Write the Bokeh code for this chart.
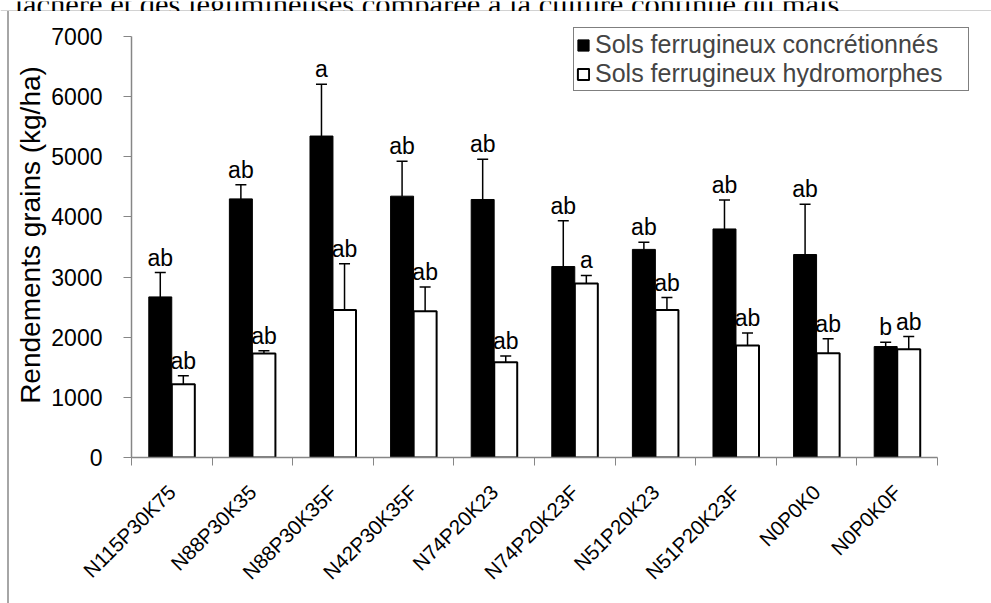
import math
from bokeh.plotting import figure
from bokeh.layouts import column, row
from bokeh.models import (Range1d, FixedTicker, ColumnDataSource, Whisker, TeeHead,
                          Legend, LegendItem, Label, Span, Div)
from bokeh.core.properties import value
from bokeh.embed import file_html
from bokeh.resources import INLINE

# ---------------- data ----------------
categories = ["N115P30K75", "N88P30K35", "N88P30K35F", "N42P30K35F", "N74P20K23",
              "N74P20K23F", "N51P20K23", "N51P20K23F", "N0P0K0", "N0P0K0F"]
concretionnes = [2670, 4300, 5345, 4345, 4290, 3175, 3460, 3800, 3375, 1845]
concretionnes_err = [405, 235, 860, 580, 670, 760, 120, 480, 835, 70]
hydromorphes = [1218, 1728, 2453, 2431, 1584, 2892, 2453, 1861, 1733, 1800]
hydromorphes_err = [140, 45, 770, 405, 105, 135, 207, 208, 240, 210]
letters_conc = ["ab", "ab", "a", "ab", "ab", "ab", "ab", "ab", "ab", "b"]
letters_hydro = ["ab", "ab", "ab", "ab", "ab", "a", "ab", "ab", "ab", "ab"]
y_ticks = [0, 1000, 2000, 3000, 4000, 5000, 6000, 7000]
series_names = ["Sols ferrugineux concrétionnés", "Sols ferrugineux hydromorphes"]
caption = "jachère et des légumineuses comparée à la culture continue du maïs."

# ---------------- styling ----------------
FONT = "Liberation Sans"
AXIS_GRAY = "#868686"
FRAME_GRAY = "#a6a6a6"
BAR_W = 0.285
OFF = 0.143


def blank(width, height):
    # pixel-like ranges so decorative positions read as pixels
    f = figure(width=width, height=height, output_backend="svg", toolbar_location=None,
               x_axis_type=None, y_axis_type=None, x_range=Range1d(0, width),
               y_range=Range1d(0, height), min_border=0)
    f.grid.visible = False
    f.outline_line_color = None
    f.background_fill_color = "white"
    f.border_fill_color = "white"
    return f


# --- strip at the top: truncated caption of the page + top edge of the frame
cap_fig = blank(991, 11)
cap_fig.add_layout(Span(location=1, dimension="width", line_color=FRAME_GRAY,
                        line_width=2))
cap_fig.add_layout(Label(x=14, y=8, text=caption, text_font="Liberation Serif",
                         text_font_size="30.5px", text_baseline="alphabetic",
                         text_color="black"))

# --- strip at the left: left edge of the frame (plain element, full height)
side = Div(text="", width=10, height=592, margin=0,
           styles={"background": "linear-gradient(to right, #ffffff 7.5px, "
                                 + FRAME_GRAY + " 7.5px, " + FRAME_GRAY
                                 + " 9.5px, #ffffff 9.5px)"})

# --- main chart
n = len(categories)
centers = [i + 0.5 for i in range(n)]
x_conc = [c - OFF for c in centers]
x_hydro = [c + OFF for c in centers]

src_c = ColumnDataSource(dict(
    x=x_conc, top=concretionnes,
    upper=[v + e for v, e in zip(concretionnes, concretionnes_err)],
    lower=concretionnes, txt=letters_conc))
src_h = ColumnDataSource(dict(
    x=x_hydro, top=hydromorphes,
    upper=[v + e for v, e in zip(hydromorphes, hydromorphes_err)],
    lower=[v - e for v, e in zip(hydromorphes, hydromorphes_err)],
    txt=letters_hydro))

# plotting frame extends beyond the axes so the overhanging legend is not
# clipped; the axis lines themselves are bounded to the data area.
p = figure(width=981, height=592, output_backend="svg", toolbar_location=None,
           x_range=Range1d(0, 10.645), y_range=Range1d(0, 7399),
           min_border_left=121, min_border_right=2, min_border_top=1,
           min_border_bottom=146)
p.xgrid.visible = False
p.ygrid.visible = False
p.outline_line_color = None
p.background_fill_color = "white"
p.border_fill_color = "white"

r1 = p.vbar(x="x", top="top", width=BAR_W, bottom=0, source=src_c,
            fill_color="black", line_color="black", line_width=1)
r2 = p.vbar(x="x", top="top", width=BAR_W, bottom=0, source=src_h,
            fill_color="white", line_color="black", line_width=2)

p.add_layout(Whisker(source=src_c, base="x", upper="upper", lower="lower",
                     line_color="black", line_width=1.5,
                     upper_head=TeeHead(size=11, line_color="black", line_width=1.5),
                     lower_head=None))
p.add_layout(Whisker(source=src_h, base="x", upper="upper", lower="lower",
                     line_color="black", line_width=1.5,
                     upper_head=TeeHead(size=11, line_color="black", line_width=1.5),
                     lower_head=TeeHead(size=11, line_color="black", line_width=1.5)))

for src in (src_c, src_h):
    p.text(x="x", y="upper", text="txt", source=src, text_align="center",
           text_baseline="bottom", y_offset=-2, text_font=value(FONT),
           text_font_size="23px", text_color="black")

# axes
p.xaxis.bounds = (0, n)
p.xaxis.ticker = FixedTicker(ticks=centers, minor_ticks=list(range(n + 1)))
p.xaxis.major_label_overrides = {c: lab for c, lab in zip(centers, categories)}
p.xaxis.major_tick_line_color = None
p.xaxis.minor_tick_line_color = AXIS_GRAY
p.xaxis.minor_tick_out = 8
p.xaxis.minor_tick_in = 0
p.xaxis.major_label_orientation = math.pi / 4
p.xaxis.major_label_standoff = 23
p.xaxis.major_label_text_font = FONT
p.xaxis.major_label_text_font_size = "20.5px"
p.xaxis.major_label_text_color = "black"
p.xaxis.axis_line_color = AXIS_GRAY
p.xaxis.axis_line_width = 1.5

p.yaxis.bounds = (0, 7000)
p.yaxis.ticker = FixedTicker(ticks=y_ticks)
p.yaxis.major_tick_out = 8
p.yaxis.major_tick_in = 0
p.yaxis.major_tick_line_color = AXIS_GRAY
p.yaxis.minor_tick_line_color = None
p.yaxis.axis_line_color = AXIS_GRAY
p.yaxis.axis_line_width = 1.5
p.yaxis.major_label_text_font = FONT
p.yaxis.major_label_text_font_size = "23px"
p.yaxis.major_label_text_color = "black"
p.yaxis.major_label_standoff = 21
p.yaxis.axis_label = "Rendements grains (kg/ha)"
p.yaxis.axis_label_text_font = FONT
p.yaxis.axis_label_text_font_size = "28px"
p.yaxis.axis_label_text_font_style = "normal"
p.yaxis.axis_label_text_color = "black"
p.yaxis.axis_label_standoff = 2

legend = Legend(items=[LegendItem(label=series_names[0], renderers=[r1]),
                       LegendItem(label=series_names[1], renderers=[r2])],
                location=(442, 366))
legend.label_text_font = FONT
legend.label_text_font_size = "25px"
legend.glyph_width = 14
legend.glyph_height = 14
legend.label_standoff = 5
legend.label_width = 371
legend.padding = 2
legend.spacing = -8
legend.margin = 0
legend.border_line_color = "black"
legend.border_line_width = 1
legend.background_fill_alpha = 1
p.add_layout(legend)

layout = column(cap_fig, row(side, p, spacing=0), spacing=0)

open("out.html", "w").write(file_html(layout, INLINE))
